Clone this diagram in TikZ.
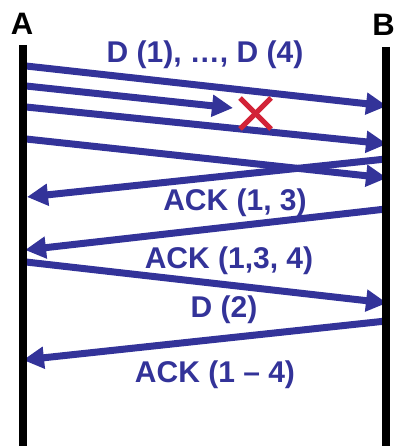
\documentclass[tikz,border=0pt]{standalone}
\usepackage{fontspec}
\setmainfont{Liberation Sans}
\usetikzlibrary{arrows.meta}
\definecolor{msgblue}{RGB}{51,51,153}
\definecolor{lossred}{RGB}{210,35,55}
\tikzset{
  lifeline/.style={line width=8pt, black},
  msg/.style={line width=7pt, msgblue, -{Triangle[length=21pt,width=21pt]}},
  msglabel/.style={anchor=base, text=msgblue, inner sep=0pt,
    font=\fontsize{30}{33}\selectfont\bfseries},
  endlabel/.style={inner sep=0pt, text=black,
    font=\fontsize{31}{34}\selectfont\bfseries},
  lossmark/.style={line width=5pt, lossred}
}
\begin{document}
\begin{tikzpicture}[x=1pt, y=-1pt]
  \useasboundingbox (0,0) rectangle (395,446);

  % end point labels
  \node[endlabel, anchor=base] (A) at (22,35) {A};
  \node[endlabel, anchor=base east] (B) at (395,36) {B};

  % lifeline ends
  \coordinate (Atop) at (23,45);
  \coordinate (Abot) at (23,446);
  \coordinate (Btop) at (386,47);
  \coordinate (Bbot) at (386,446);

  % message end points on A
  \coordinate (a1) at (26,66);
  \coordinate (a2) at (26,86);
  \coordinate (a3) at (26,107);
  \coordinate (a4) at (26,139);
  \coordinate (a5) at (27,197);
  \coordinate (a6) at (25,250);
  \coordinate (a7) at (26,262);
  \coordinate (a8) at (23,360);
  % message end points on B
  \coordinate (b1) at (387,106);
  \coordinate (b3) at (387,144);
  \coordinate (b4) at (387,178);
  \coordinate (b5) at (386,159);
  \coordinate (b6) at (386,209);
  \coordinate (b7) at (387,303);
  \coordinate (b8) at (386,321);
  % where the lost segment ends
  \coordinate (lost) at (233,108);

  % messages
  \draw[msg] (a1) -- (b1);
  \draw[msg] (a2) -- (lost);
  \draw[msg] (a3) -- (b3);
  \draw[msg] (a4) -- (b4);
  \draw[msg] (b5) -- (a5);
  \draw[msg] (b6) -- (a6);
  \draw[msg] (a7) -- (b7);
  \draw[msg] (b8) -- (a8);

  % loss marker
  \draw[lossmark] (240,98) -- (271,129);
  \draw[lossmark] (240,129) -- (271,98);

  % lifelines
  \draw[lifeline] (Atop) -- (Abot);
  \draw[lifeline] (Btop) -- (Bbot);

  % message labels
  \node[msglabel] (l1) at (205,63) {D (1), \dots, D (4)};
  \node[msglabel] (l2) at (235,210) {ACK (1, 3)};
  \node[msglabel] (l3) at (229,268) {ACK (1,3, 4)};
  \node[msglabel] (l4) at (224,317) {D (2)};
  \node[msglabel] (l5) at (215,382) {ACK (1 – 4)};
\end{tikzpicture}
\end{document}
